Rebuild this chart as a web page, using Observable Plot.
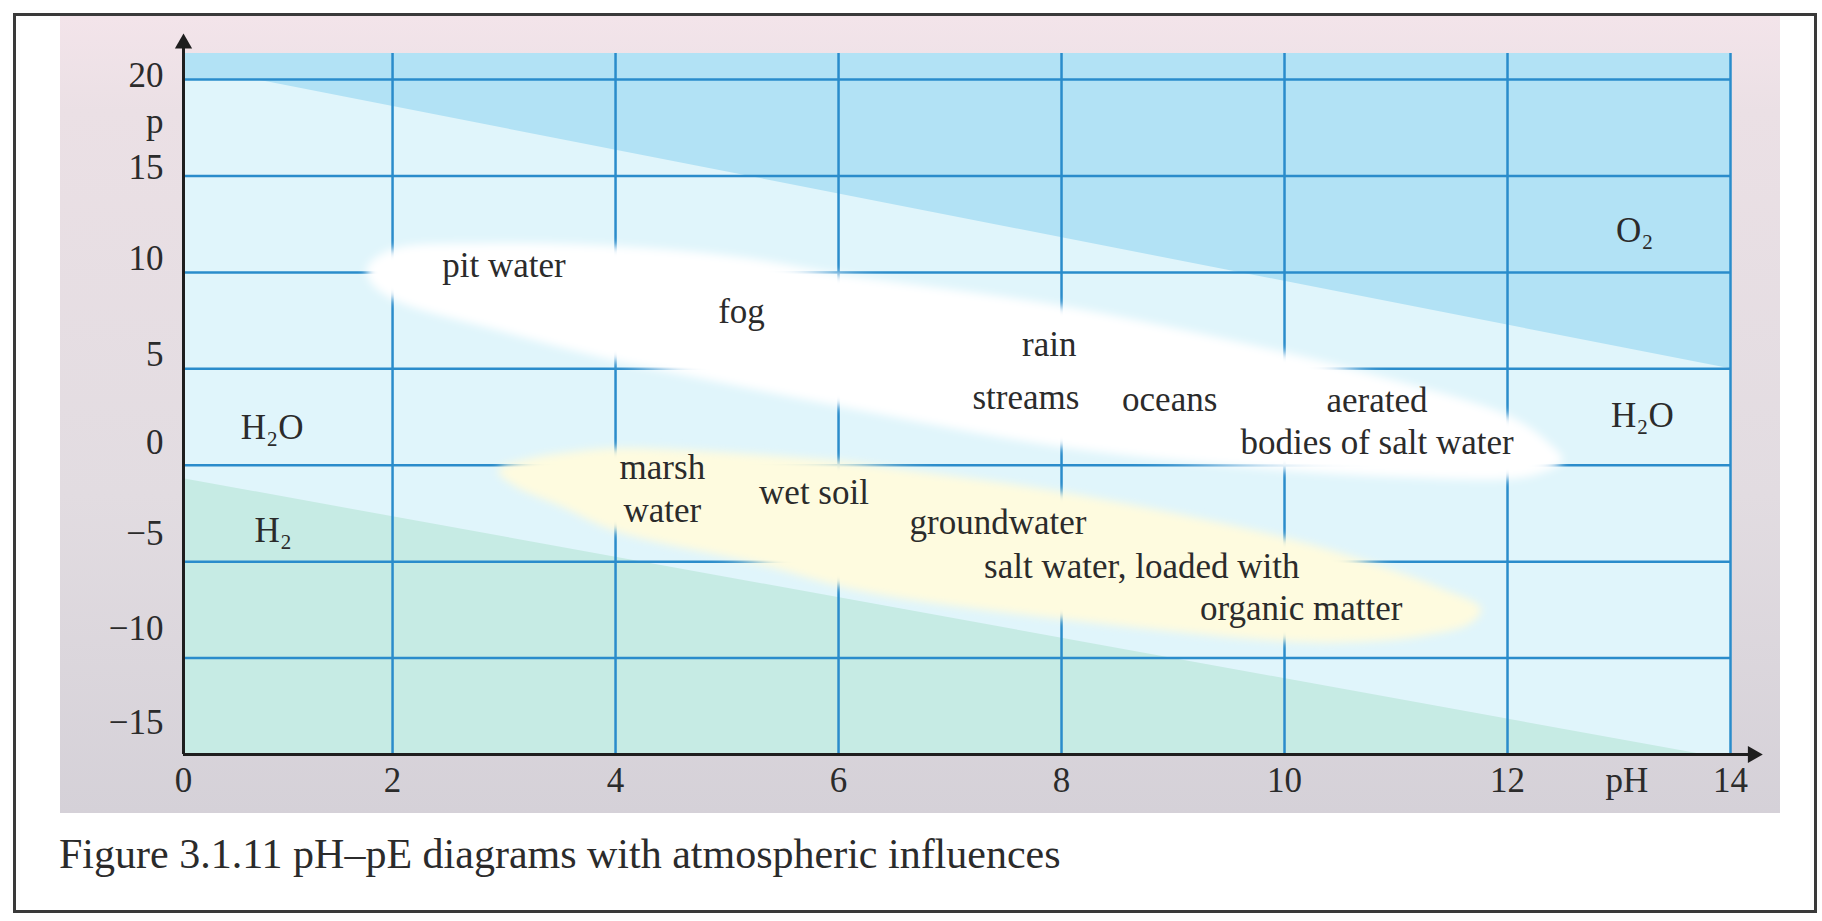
<!DOCTYPE html>
<html>
<head>
<meta charset="utf-8">
<script src="https://cdn.jsdelivr.net/npm/d3@7"></script>
<script src="https://cdn.jsdelivr.net/npm/@observablehq/plot@0.6"></script>
<style>
  html, body { margin: 0; padding: 0; background: #ffffff; }
  body { width: 1822px; height: 921px; position: relative; overflow: hidden;
         font-family: "Liberation Serif", "Times New Roman", serif; }
  #border { position: absolute; left: 13px; top: 13px; width: 1804px; height: 900px;
            border: 3px solid #3a3a3a; box-sizing: border-box; }
  #panel { position: absolute; left: 60px; top: 16px; width: 1720px; height: 797px;
           background: linear-gradient(to bottom, #f3e4ea 0%, #ebe0e5 12%, #e2dce1 60%, #d5d1d8 100%); }
  #caption { position: absolute; left: 59px; top: 833px; font-size: 42px; line-height: 42px;
             color: #2b2b2b; white-space: nowrap; }
</style>
</head>
<body>
<div id="border"></div>
<div id="panel"></div>
<div id="caption">Figure 3.1.11 pH–pE diagrams with atmospheric influences</div>
<script>
// ---- scale extents (pH, pE) ----
const phMin = 0.125, phMax = 14;
const peMin = -15, peMax = 21.35;

// ---- axis ticks (labels sit where the original printed them) ----
const phTickPositions = [0.125, 2, 4, 6, 8, 10, 12, 14];
const phTickLabels = ["0", "2", "4", "6", "8", "10", "12", "14"];
const peTickPositions = [20.2, 15.4, 10.7, 5.75, 1.15, -3.55, -8.5, -13.35];
const peTickLabels = ["20", "15", "10", "5", "0", "−5", "−10", "−15"];
const phGrid = [2, 4, 6, 8, 10, 12, 14];
const peGrid = [20, 15, 10, 5, 0, -5, -10];
const xTitle = [{text: "pH", pH: 13.07}];
const yTitle = [{text: "p", pE: 17.8}];
const yArrowTip = 22.39;
const xArrowTip = 14.29;

// ---- stability boundaries ----
const o2Boundary = [
  {pH: 0.125, pE: 20}, {pH: 0.77, pE: 20}, {pH: 14, pE: 5.0}
];
const h2Boundary = [
  {pH: 0.125, pE: -0.7}, {pH: 13.75, pE: -15}, {pH: 14, pE: -15}
];

// ---- natural water bands [pH, pE] ----
const whiteBand = [
  [1.78, 10.30], [2.00, 11.18], [2.79, 11.49], [4.00, 11.34], [5.12, 10.77],
  [6.00, 9.89], [8.01, 8.23], [9.99, 5.84], [10.60, 4.96], [12.00, 2.57],
  [12.34, 1.28], [12.49, 0.24], [12.30, -0.38], [12.00, -0.69], [11.04, -0.59],
  [9.99, -0.23], [8.01, 0.96], [6.00, 3.09], [4.49, 4.85], [4.00, 5.43],
  [2.97, 6.98], [2.00, 8.64], [1.80, 9.57]
];
const yellowBand = [
  [2.95, -0.28], [3.24, 0.34], [3.58, 0.65], [4.00, 0.86], [4.61, 0.76],
  [6.00, 0.19], [6.49, -0.18], [8.01, -1.42], [9.99, -3.76], [10.84, -5.21],
  [11.40, -6.40], [11.76, -7.44], [11.67, -8.16], [11.22, -8.84], [10.59, -9.15],
  [9.99, -9.10], [8.01, -7.96], [6.56, -6.87], [6.00, -6.24], [5.29, -5.10],
  [4.00, -3.39], [3.51, -2.10], [3.10, -1.06]
];

// ---- annotations ----
const labelText = ["pit water", "fog", "rain", "streams", "oceans", "aerated",
  "bodies of salt water", "marsh", "water", "wet soil", "groundwater",
  "salt water, loaded with", "organic matter", "H₂O", "H₂", "H₂O", "O₂"];
const labelPH = [3.00, 5.13, 7.89, 7.68, 8.97, 10.83, 10.83, 4.42, 4.42, 5.78, 7.43,
  8.72, 10.15, 0.92, 0.93, 13.21, 13.14];
const labelPE = [10.35, 7.97, 6.26, 3.51, 3.40, 3.35, 1.17, -0.12, -2.35, -1.42, -2.98,
  -5.26, -7.44, 1.95, -3.39, 2.57, 12.17];

// ---- styling ----
const font = '"Liberation Serif", "Times New Roman", serif';
const cCyan = "#e0f5fb", cBlue = "#b2e2f5", cGreen = "#c6ebe4";
const cGrid = "#2a8ccb", cAxis = "#1e1e1e", cText = "#2b2b2b";
const cWhite = "#ffffff", cYellow = "#fefbdf";

const phFmt = d => phTickLabels[phTickPositions.indexOf(d)];
const peFmt = d => peTickLabels[peTickPositions.indexOf(d)];

const chart = Plot.plot({
  width: 1720, height: 797,
  marginLeft: 123, marginRight: 50, marginTop: 37, marginBottom: 59,
  x: {domain: [phMin, phMax], label: null},
  y: {domain: [peMin, peMax], label: null},
  style: {background: "transparent", fontFamily: font, fontSize: "35px", color: cText, overflow: "visible"},
  marks: [
    Plot.frame({fill: cCyan, stroke: null}),
    Plot.areaY(o2Boundary, {x: "pH", y1: "pE", y2: peMax, fill: cBlue}),
    Plot.areaY(h2Boundary, {x: "pH", y1: peMin, y2: "pE", fill: cGreen}),
    Plot.ruleX(phGrid, {y1: peMin, y2: peMax, stroke: cGrid, strokeWidth: 2.5}),
    Plot.ruleY(peGrid, {x1: phMin, x2: phMax, stroke: cGrid, strokeWidth: 2.5}),
    Plot.line(whiteBand, {x: d => d[0], y: d => d[1], curve: "catmull-rom-closed",
      fill: cWhite, stroke: cWhite, strokeWidth: 1}),
    Plot.line(yellowBand, {x: d => d[0], y: d => d[1], curve: "catmull-rom-closed",
      fill: cYellow, stroke: cYellow, strokeWidth: 1}),
    Plot.ruleX([phMin], {y1: peMin, y2: yArrowTip - 0.3, stroke: cAxis, strokeWidth: 3}),
    Plot.ruleY([peMin], {x1: phMin, x2: xArrowTip - 0.08, stroke: cAxis, strokeWidth: 3}),
    Plot.dot([{x: phMin, y: yArrowTip}], {x: "x", y: "y", symbol: "triangle", r: 6.4,
      fill: cAxis, stroke: "none", dy: 10}),
    Plot.dot([{x: xArrowTip, y: peMin}], {x: "x", y: "y", symbol: "triangle", r: 6.4,
      fill: cAxis, stroke: "none", rotate: 90, dx: -10}),
    Plot.axisX(phTickPositions, {anchor: "bottom", tickSize: 0, tickPadding: 13,
      tickFormat: phFmt, label: null, fontSize: 35, fill: cText}),
    Plot.axisY(peTickPositions, {anchor: "left", tickSize: 0, tickPadding: 20,
      tickFormat: peFmt, label: null, fontSize: 35, fill: cText}),
    Plot.text(xTitle, {x: "pH", y: peMin, text: "text", lineAnchor: "top", dy: 13,
      fontSize: 35, fill: cText}),
    Plot.text(yTitle, {x: phMin, y: "pE", text: "text", textAnchor: "end", dx: -20,
      fontSize: 35, fill: cText}),
    Plot.text(labelText, {x: (d, i) => labelPH[i], y: (d, i) => labelPE[i], text: d => d,
      fontSize: 35, fill: cText})
  ]
});

// soft edges for the two bands via an SVG Gaussian blur filter
const ns = "http://www.w3.org/2000/svg";
const defs = document.createElementNS(ns, "defs");
const filter = document.createElementNS(ns, "filter");
filter.setAttribute("id", "bandBlur");
filter.setAttribute("x", "-10%"); filter.setAttribute("y", "-20%");
filter.setAttribute("width", "120%"); filter.setAttribute("height", "140%");
const blur = document.createElementNS(ns, "feGaussianBlur");
blur.setAttribute("stdDeviation", "4");
filter.appendChild(blur);
defs.appendChild(filter);
chart.insertBefore(defs, chart.firstChild);
chart.querySelectorAll('g[aria-label="line"]')
  .forEach(g => g.setAttribute("filter", "url(#bandBlur)"));

document.getElementById("panel").appendChild(chart);
</script>
</body>
</html>
